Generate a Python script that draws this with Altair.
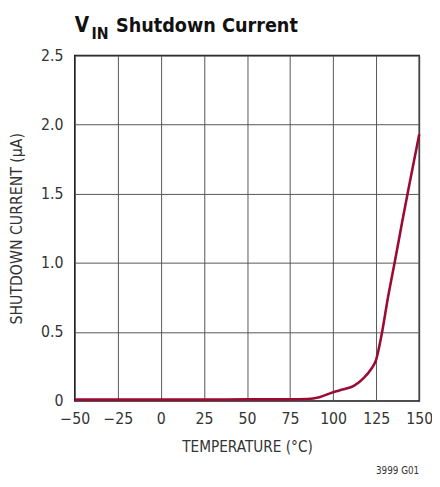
import altair as alt
import pandas as pd

temps = [-50, -25, 0, 25, 50, 75, 85, 92, 100, 106, 112, 118, 122, 125, 128, 132, 136, 140, 144, 147, 150]
current = [0.01, 0.01, 0.01, 0.01, 0.012, 0.012, 0.015, 0.028, 0.064, 0.085, 0.11, 0.17, 0.23, 0.30, 0.47, 0.76, 1.02, 1.29, 1.55, 1.74, 1.93]

x_ticks = [-50, -25, 0, 25, 50, 75, 100, 125, 150]
y_ticks = [0, 0.5, 1.0, 1.5, 2.0, 2.5]

FONT = "DejaVu Sans Condensed, Roboto, sans-serif"
GREY = "#333333"

df = pd.DataFrame({"t": temps, "i": current})

W, H = 351, 352

line = alt.Chart(df).mark_line(color="#9b0a33", strokeWidth=2.6, interpolate="monotone").encode(
    x=alt.X("t:Q", scale=alt.Scale(domain=[-50, 150], nice=False),
            axis=alt.Axis(values=x_ticks, title="TEMPERATURE (°C)", grid=True, domain=False, ticks=False,
                          labelExpr="replace(format(datum.value, 'd'), '-', '–')",
                          labelFont=FONT, labelFontSize=16, labelColor=GREY, labelPadding=10,
                          titleFont=FONT, titleFontSize=15.5, titleFontWeight="normal", titleColor=GREY,
                          titleY=51, titleBaseline="alphabetic",
                          gridColor="#555555", gridWidth=1, labelFlush=False)),
    y=alt.Y("i:Q", scale=alt.Scale(domain=[0, 2.5], nice=False),
            axis=alt.Axis(values=y_ticks, title="SHUTDOWN CURRENT (µA)", grid=True, domain=False, ticks=False,
                          labelExpr="datum.value == 0 ? '0' : format(datum.value, '.1f')",
                          labelFont=FONT, labelFontSize=16, labelColor=GREY, labelPadding=12,
                          titleFont=FONT, titleFontSize=16, titleFontWeight="normal", titleColor=GREY,
                          titleX=-59, titleY=H / 2, titleBaseline="middle", titleAlign="center",
                          gridColor="#555555", gridWidth=1, labelFlush=False)),
)

title_v = alt.Chart(pd.DataFrame({"s": ["V"]})).mark_text(
    font=FONT, fontSize=21, fontWeight="bold", align="left", baseline="alphabetic", color="#111111"
).encode(text="s:N", x=alt.value(0), y=alt.value(-24))

title_in = alt.Chart(pd.DataFrame({"s": ["IN"]})).mark_text(
    font=FONT, fontSize=16, fontWeight="bold", align="left", baseline="alphabetic", color="#111111"
).encode(text="s:N", x=alt.value(17), y=alt.value(-17))

title_rest = alt.Chart(pd.DataFrame({"s": ["Shutdown Current"]})).mark_text(
    font=FONT, fontSize=20, fontWeight="bold", align="left", baseline="alphabetic", color="#111111"
).encode(text="s:N", x=alt.value(42), y=alt.value(-24))

code = alt.Chart(pd.DataFrame({"s": ["3999 G01"]})).mark_text(
    font=FONT, fontSize=10, align="right", baseline="alphabetic", color=GREY
).encode(text="s:N", x=alt.value(W), y=alt.value(H + 74))

chart = alt.layer(line, title_v, title_in, title_rest, code).properties(
    width=W, height=H,
    autosize=alt.AutoSizeParams(type="none"),
    padding={"left": 68, "top": 44, "right": 13, "bottom": 75},
    background="white",
).configure_view(stroke="#111111", strokeWidth=1.5)

chart.save("out.html", embed_options={"renderer": "svg", "actions": False})
